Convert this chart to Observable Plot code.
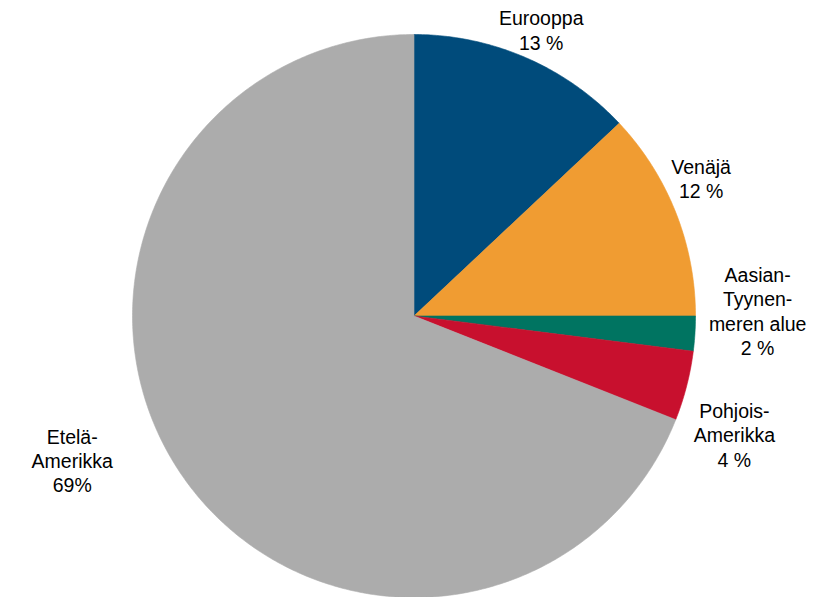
<!DOCTYPE html>
<html>
<head>
<meta charset="utf-8">
<script src="https://cdn.jsdelivr.net/npm/d3@7"></script>
<script src="https://cdn.jsdelivr.net/npm/@observablehq/plot@0.6"></script>
<style>
  html, body { margin: 0; padding: 0; background: #fff; }
  #chart svg { display: block; }
</style>
</head>
<body>
<div id="chart"></div>
<script>
// Data
const regions = ["Eurooppa", "Venäjä", "Aasian-Tyynenmeren alue", "Pohjois-Amerikka", "Etelä-Amerikka"];
const shares = [13, 12, 2, 4, 69];
const labelTexts = ["Eurooppa\n13 %", "Venäjä\n12 %", "Aasian-\nTyynen-\nmeren alue\n2 %", "Pohjois-\nAmerikka\n4 %", "Etelä-\nAmerikka\n69%"];
const colors = ["#004b7b", "#f09c32", "#007461", "#c8102e", "#acacac"];

// Label nudges (px) relative to a point just outside each slice's mid-angle
const nudges = {
  "Eurooppa": [2, 3],
  "Venäjä": [-6, -22],
  "Aasian-Tyynenmeren alue": [29, -25],
  "Pohjois-Amerikka": [15, 40],
  "Etelä-Amerikka": [-81, -33]
};

const table = regions.map((name, i) => ({name, value: shares[i], label: labelTexts[i]}));
const arcs = d3.pie().sort(null).value(d => d.value)(table);

// Slice outlines (center + arc samples), in unit-circle coordinates
const slicePts = [];
for (const a of arcs) {
  const n = Math.max(2, Math.ceil((a.endAngle - a.startAngle) / 0.01));
  slicePts.push({name: a.data.name, x: 0, y: 0});
  for (let k = 0; k <= n; k++) {
    const t = a.startAngle + (a.endAngle - a.startAngle) * k / n;
    slicePts.push({name: a.data.name, x: Math.sin(t), y: Math.cos(t)});
  }
  slicePts.push({name: a.data.name, x: 0, y: 0});
}

const labelR = 1.12;
const labelMarks = arcs.map(a => {
  const m = (a.startAngle + a.endAngle) / 2;
  const [dx, dy] = nudges[a.data.name];
  return Plot.text([{x: labelR * Math.sin(m), y: labelR * Math.cos(m), t: a.data.label}], {
    x: "x", y: "y", text: "t", dx, dy,
    textAnchor: "middle", lineAnchor: "middle", lineHeight: 1.25,
    fontSize: 19.5, fill: "#000",
    fontFamily: "Liberation Sans, Arial, sans-serif"
  });
});

const chart = Plot.plot({
  width: 823,
  height: 597,
  marginLeft: 132,
  marginRight: 128,
  marginTop: 34,
  marginBottom: 0,
  x: {domain: [-1, 1], axis: null},
  y: {domain: [-1, 1], axis: null},
  color: {domain: regions, range: colors},
  style: {background: "#fff", fontFamily: "Liberation Sans, Arial, sans-serif"},
  marks: [
    Plot.line(slicePts, {x: "x", y: "y", z: "name", fill: "name", stroke: "name", strokeWidth: 0.6, curve: "linear"}),
    ...labelMarks
  ]
});
document.getElementById("chart").appendChild(chart);
</script>
</body>
</html>
